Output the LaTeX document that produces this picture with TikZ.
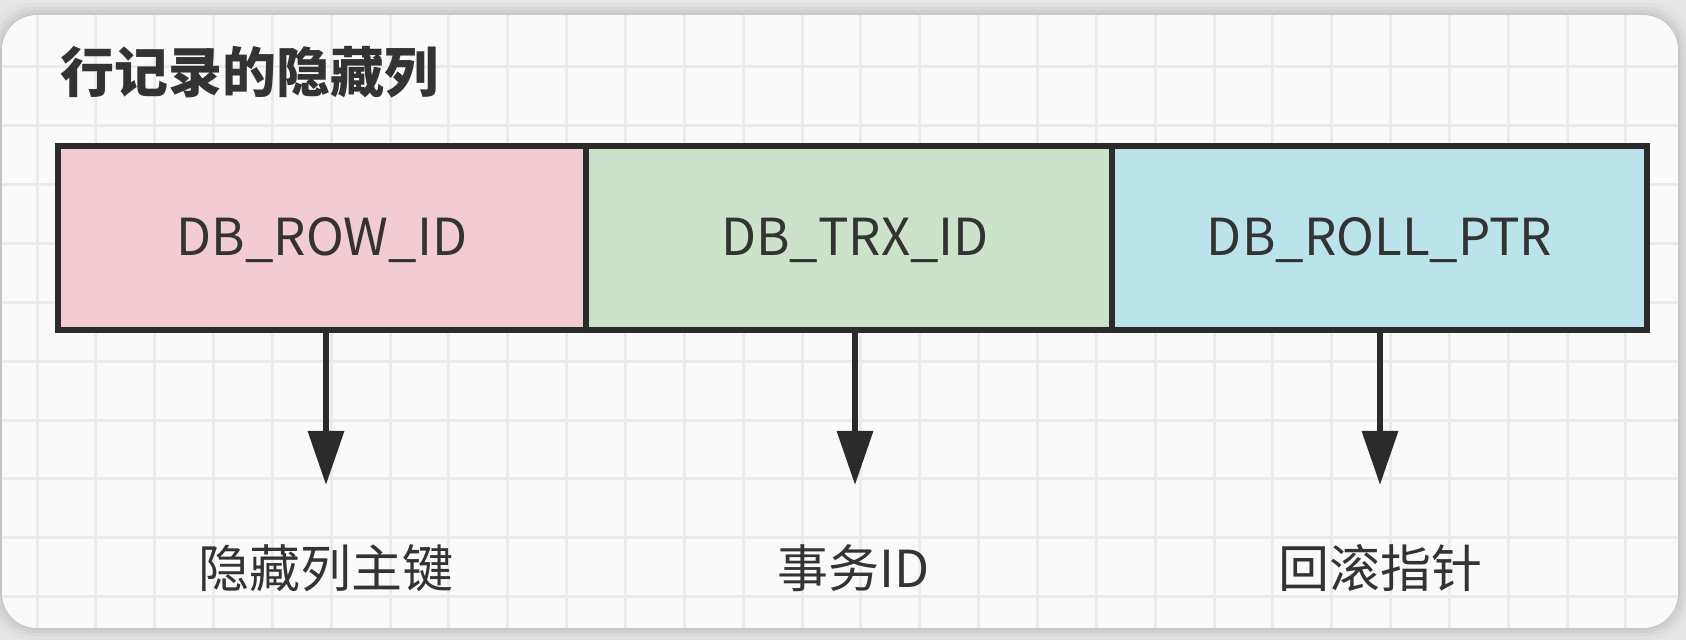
\documentclass[tikz,border=0pt]{standalone}
\usepackage{fontspec}
\setmainfont{Noto Sans CJK SC}
\usepackage{tikz}
\usetikzlibrary{positioning,arrows.meta}
\usepackage{xcolor}
\definecolor{rowpink}{HTML}{F2CCD2}
\definecolor{trxgreen}{HTML}{CDE2CA}
\definecolor{rollblue}{HTML}{BAE3EA}
\definecolor{linegray}{HTML}{2B2B2B}
\definecolor{textgray}{HTML}{333333}
\definecolor{gridgray}{HTML}{EBEBEB}
\definecolor{cardbg}{HTML}{FAFAFA}
\definecolor{pagebg}{HTML}{E6E6E6}

\tikzset{
  cell/.style={draw=linegray, line width=3.2pt, minimum height=92pt, inner sep=0pt,
    text height=17.5pt, text depth=0pt,
    text=textgray, font=\fontsize{25.5pt}{29pt}\selectfont},
  colarrow/.style={draw=linegray, line width=3.2pt, -{Triangle[length=27pt,width=17.5pt]}},
  note/.style={text=textgray, inner sep=0pt, font=\fontsize{25.5pt}{30pt}\selectfont},
}

\begin{document}
\begin{tikzpicture}[x=0.5pt, y=-0.5pt]
        \useasboundingbox (0,0) rectangle (1686,640);
        \fill[pagebg] (0,0) rectangle (1686,640);
        \foreach \s/\o in {12/0.02, 8/0.03, 5/0.04, 2/0.05}
          \fill[black, opacity=\o, rounded corners=20pt] ({2-\s},{15-\s}) rectangle ({1678+\s},{628+\s});
        \fill[cardbg, rounded corners=17.5pt] (2,15) rectangle (1678,628);
        % grid
        \begin{scope}
          \clip[rounded corners=17.5pt] (2,15) rectangle (1678,628);
          \foreach \k in {0,...,27}
            \draw[gridgray, line width=1.5pt] ({37+58.85*\k},15) -- ({37+58.85*\k},628);
          \foreach \k in {0,...,9}
            \draw[gridgray, line width=1.5pt] (2,{67+58.85*\k}) -- (1678,{67+58.85*\k});
        \end{scope}

        \node[anchor=west, inner sep=0pt, text=textgray, font=\fontsize{27pt}{32pt}\selectfont\bfseries] (title) at (60,72) {行记录的隐藏列};

        \node[cell, fill=rowpink, minimum width=264pt] (rowid) at (322,238) {DB\_ROW\_ID};
        \node[cell, fill=trxgreen, minimum width=263pt] (trxid) at (849,238) {\hspace*{6pt}DB\_TRX\_ID};
        \node[cell, fill=rollblue, minimum width=267.5pt] (rollptr) at (1379.5,238) {DB\_ROLL\_PTR};

        \coordinate (rowtip) at (326,485);
        \coordinate (trxtip) at (855,485);
        \coordinate (rolltip) at (1380,485);
        \draw[colarrow] (rowid.south -| rowtip) -- (rowtip);
        \draw[colarrow] (trxid.south -| trxtip) -- (trxtip);
        \draw[colarrow] (rollptr.south -| rolltip) -- (rolltip);

        \node[note] (rowkey) at (326,568) {隐藏列主键};
        \node[note] (trxkey) at (854,568) {事务ID};
        \node[note] (rollkey) at (1380,568) {回滚指针};
\end{tikzpicture}
\end{document}
